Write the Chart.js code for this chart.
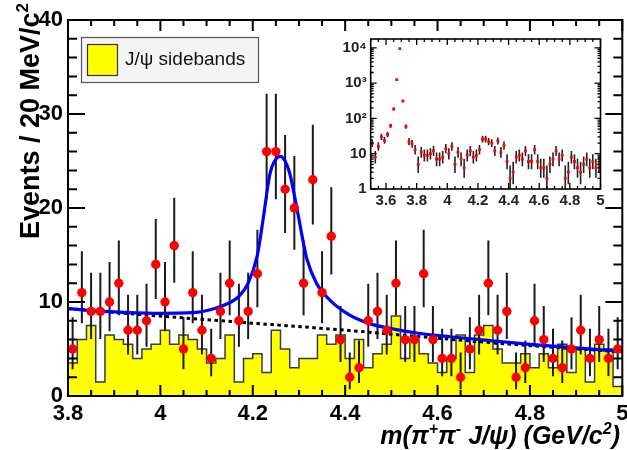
<!DOCTYPE html>
<html><head><meta charset="utf-8">
<script src="https://cdn.jsdelivr.net/npm/chart.js@4/dist/chart.umd.min.js"></script>
<style>
html,body{margin:0;padding:0;background:#fff;}
#wrap{position:relative;width:627px;height:450px;overflow:hidden;}
#main{position:absolute;left:0;top:0;}
#inset{position:absolute;left:336px;top:32px;}
</style></head><body>
<div id="wrap"><canvas id="main" width="627" height="450"></canvas><canvas id="inset" width="269" height="178"></canvas></div>
<script>
// ---------------- data ----------------
const massBins = [3.81,3.83,3.85,3.87,3.89,3.91,3.93,3.95,3.97,3.99,4.01,4.03,4.05,4.07,4.09,4.11,4.13,4.15,4.17,4.19,
  4.21,4.23,4.25,4.27,4.29,4.31,4.33,4.35,4.37,4.39,4.41,4.43,4.45,4.47,4.49,4.51,4.53,4.55,4.57,4.59,
  4.61,4.63,4.65,4.67,4.69,4.71,4.73,4.75,4.77,4.79,4.81,4.83,4.85,4.87,4.89,4.91,4.93,4.95,4.97,4.99];
const events = [5,11,9,9,10,12,7,7,8,14,10,16,5,11,7,4,9,12,8,9,
  13,26,26,22,20,12,23,11,17,6,2,3,8,9,7,12,6,6,13,6,
  4,4,2,5,7,12,7,9,2,3,8,6,4,3,5,7,4,6,4,5];
const sidebands = [3.5,6,7.5,1.5,6.5,6,5.5,4,5,5.5,7,5.5,6.5,6,5,3.5,4,6.5,1.5,4,
  4.5,2.5,7,5,3,4,4,6.5,5.5,6.5,4,6,3,4.5,5.5,8.5,4,6,4.5,3.5,
  2.5,4,6.5,2.5,6.5,7.5,5,3.5,3.5,4.5,3,4.5,3,5.5,2.5,5,1.5,5.5,5,1];
const fitX = [3.80,3.86,3.93,4.00,4.07,4.11,4.14,4.17,4.19,4.21,4.223,4.237,4.25,4.26,4.27,4.28,4.295,4.31,4.317,4.338,4.367,4.41,4.453,4.497,4.555,4.627,4.80,5.00];
const fitY = [9.3,9.05,8.88,8.8,8.86,9.2,9.7,10.6,12.0,15.0,19.0,23.6,25.2,25.5,25.0,23.7,20.1,16.2,14.6,12.0,10.2,8.6,7.7,7.2,6.7,6.3,5.5,4.75];
const bkgX = [3.8,4.0,4.2,4.4,4.6,4.8,5.0];
const bkgY = [9.3,8.5,7.75,7.0,6.15,5.35,4.7];
const xTicks = [3.8,4.0,4.2,4.4,4.6,4.8,5.0];
const xTickLabels = ['3.8','4','4.2','4.4','4.6','4.8','5'];
const yTicks = [0,10,20,30,40];
const yTickLabels = ['0','10','20','30','40'];
const legendLabel = 'J/\u03c8 sidebands';
// inset (wide range, log scale)
const insetLowBins = [3.51,3.53,3.55,3.57,3.59,3.61,3.63,3.65,3.67,3.69,3.71,3.73,3.75,3.77,3.79];
const insetLowCounts = [20,8,16,30,24,35,62,185,1250,9450,311,59,22,19,13];
const insetXTicks = [3.6,3.8,4.0,4.2,4.4,4.6,4.8,5.0];
const insetXLabels = ['3.6','3.8','4','4.2','4.4','4.6','4.8','5'];
const insetYTicks = [1,10,100,1000,10000];
const insetYLabels = ['1','10','10\u00b2','10\u00b3','10\u2074'];

// ---------------- helpers ----------------
const FONT = '"Liberation Sans", Arial, Helvetica, sans-serif';
function pLow(n){ if(n<=0) return 0; return n*Math.pow(1-1/(9*n)-1/(3*Math.sqrt(n)),3); }
function pHigh(n){ const m=n+1; return m*Math.pow(1-1/(9*m)+1/(3*Math.sqrt(m)),3); }

function drawErrorBars(chart, xsv, ysv, color, lw){
  const xs=chart.scales.x, ys=chart.scales.y, a=chart.chartArea, ctx=chart.ctx;
  ctx.save();
  ctx.beginPath(); ctx.rect(a.left,a.top,a.right-a.left,a.bottom-a.top); ctx.clip();
  ctx.strokeStyle=color; ctx.lineWidth=lw; ctx.beginPath();
  for(let i=0;i<xsv.length;i++){
    const n=ysv[i];
    const px=xs.getPixelForValue(xsv[i]);
    const lo=Math.max(pLow(n), ys.min);
    const hi=pHigh(n);
    ctx.moveTo(px, ys.getPixelForValue(lo)); ctx.lineTo(px, ys.getPixelForValue(hi));
  }
  ctx.stroke(); ctx.restore();
}

function drawFrameTicks(chart, xt, yt, o){
  const xs=chart.scales.x, ys=chart.scales.y, a=chart.chartArea, ctx=chart.ctx;
  ctx.save(); ctx.strokeStyle='#000'; ctx.lineWidth=o.lw; ctx.beginPath();
  for(const t of xt){ const px=xs.getPixelForValue(t.v); const L=t.major?o.xMaj:o.xMin;
    ctx.moveTo(px,a.bottom); ctx.lineTo(px,a.bottom-L); ctx.moveTo(px,a.top); ctx.lineTo(px,a.top+L); }
  for(const t of yt){ const py=ys.getPixelForValue(t.v); const L=t.major?o.yMaj:o.yMin;
    ctx.moveTo(a.left,py); ctx.lineTo(a.left+L,py); ctx.moveTo(a.right,py); ctx.lineTo(a.right-L,py); }
  ctx.stroke();
  ctx.lineWidth=o.frame; ctx.strokeRect(a.left,a.top,a.right-a.left,a.bottom-a.top);
  ctx.restore();
}

function drawPieces(ctx, pieces, fs, style){
  let w=0; const sfs=Math.round(fs*0.62);
  for(const p of pieces){ ctx.font=style+' '+(p.sup?sfs:fs)+'px '+FONT; w+=ctx.measureText(p.t).width; }
  let x=-w;
  for(const p of pieces){ ctx.font=style+' '+(p.sup?sfs:fs)+'px '+FONT;
    ctx.fillText(p.t, x, p.sup?-fs*0.42:0); x+=ctx.measureText(p.t).width; }
  return w;
}

// ---------------- main chart ----------------
const mainXMarks=[]; for(let k=0;k<=24;k++) mainXMarks.push({v:3.8+0.05*k, major:k%4===0});
const mainYMarks=[]; for(let v=0;v<=40;v+=2) mainYMarks.push({v:v, major:v%10===0});

const histData = sidebands.map((v,i)=>({x:massBins[i]-0.01, y:v}));
histData.push({x:5.0, y:sidebands[sidebands.length-1]});

const mainPlugin = {
  id:'mainDecor',
  beforeDatasetDraw(chart,args){
    if(args.index===1){ drawErrorBars(chart, massBins, events, '#1a1a1a', 2); }
  },
  afterDraw(chart){
    const ctx=chart.ctx;
    drawFrameTicks(chart, mainXMarks, mainYMarks, {lw:2, frame:2, xMaj:11, xMin:6, yMaj:17, yMin:9});
    // legend
    ctx.save();
    ctx.fillStyle='#f4f4f4'; ctx.strokeStyle='#555'; ctx.lineWidth=1.2;
    ctx.fillRect(81,37,178,46); ctx.strokeRect(81.5,37.5,177,45);
    ctx.fillStyle='#ffff00'; ctx.fillRect(87,44,31,32);
    ctx.strokeStyle='#333'; ctx.lineWidth=1.2; ctx.strokeRect(87.5,44.5,30,31);
    ctx.fillStyle='#111'; ctx.font='19px '+FONT; ctx.textBaseline='alphabetic'; ctx.textAlign='left';
    ctx.fillText(chart.data.datasets[0].label, 125, 65);
    ctx.restore();
    // y title
    ctx.save(); ctx.fillStyle='#000'; ctx.textAlign='left'; ctx.textBaseline='alphabetic';
    ctx.translate(39,3); ctx.rotate(-Math.PI/2);
    drawPieces(ctx,[{t:'Events / 20 MeV/c'},{t:'2',sup:true}],27,'bold');
    ctx.restore();
    // x title
    ctx.save(); ctx.fillStyle='#000'; ctx.textAlign='left'; ctx.textBaseline='alphabetic';
    ctx.translate(620,444);
    drawPieces(ctx,[{t:'m(\u03c0'},{t:'+',sup:true},{t:'\u03c0'},{t:'-',sup:true},{t:' J/\u03c8) (GeV/c'},{t:'2',sup:true},{t:')'}],25,'italic bold');
    ctx.restore();
  }
};

new Chart(document.getElementById('main'),{
  type:'scatter',
  data:{datasets:[
    {label:legendLabel, data:histData, showLine:true, stepped:true, fill:'origin',
     backgroundColor:'#ffff00', borderColor:'#3a3a3a', borderWidth:1.5, pointRadius:0, order:4},
    {label:'background', data:bkgX.map((x,i)=>({x:x,y:bkgY[i]})), showLine:true, borderColor:'#000',
     borderWidth:3, borderDash:[3.5,3.5], cubicInterpolationMode:'monotone', pointRadius:0, fill:false, order:3},
    {label:'fit', data:fitX.map((x,i)=>({x:x,y:fitY[i]})), showLine:true, borderColor:'#0000ff',
     borderWidth:3.2, cubicInterpolationMode:'monotone', pointRadius:0, fill:false, order:2},
    {label:'data', data:massBins.map((x,i)=>({x:x,y:events[i]})), showLine:false,
     pointRadius:4.7, pointBackgroundColor:'#ff0000', pointBorderWidth:0, pointStyle:'circle', order:1}
  ]},
  options:{
    responsive:false, animation:false, devicePixelRatio:1,
    layout:{padding:{top:20,right:4.5,left:0,bottom:0}},
    plugins:{legend:{display:false}, tooltip:{enabled:false}},
    scales:{
      x:{type:'linear', min:3.8, max:5.0,
        afterBuildTicks:s=>{s.ticks=xTicks.map(v=>({value:v}));},
        afterFit:s=>{s.height=54; s.paddingLeft=0; s.paddingRight=0;},
        grid:{display:false, drawTicks:false}, border:{display:false},
        ticks:{callback:(v,i)=>xTickLabels[i], autoSkip:false, maxRotation:0, padding:5,
          color:'#000', font:{family:FONT, size:22, weight:'bold'}}},
      y:{type:'linear', min:0, max:40,
        afterBuildTicks:s=>{s.ticks=yTicks.map(v=>({value:v}));},
        afterFit:s=>{s.width=68; s.paddingTop=0; s.paddingBottom=0;},
        grid:{display:false, drawTicks:false}, border:{display:false},
        ticks:{callback:(v,i)=>yTickLabels[i], autoSkip:false, padding:5,
          color:'#000', font:{family:FONT, size:22, weight:'bold'}}}
    }
  },
  plugins:[mainPlugin]
});

// ---------------- inset chart ----------------
const insetBins = insetLowBins.concat(massBins);
const insetCounts = insetLowCounts.concat(events);
const insetXMarks=[]; for(let k=0;k<=30;k++) insetXMarks.push({v:3.5+0.05*k, major:(k-2)%4===0});
const insetYMarks=[]; for(let d=0;d<=4;d++){ for(let m=1;m<=9;m++){ const v=m*Math.pow(10,d); if(v<=17800) insetYMarks.push({v:v, major:m===1}); } }

const insetPlugin = {
  id:'insetDecor',
  beforeDatasetDraw(chart,args){ if(args.index===0) drawErrorBars(chart, insetBins, insetCounts, '#222', 1.6); },
  afterDraw(chart){ drawFrameTicks(chart, insetXMarks, insetYMarks, {lw:1.3, frame:1.6, xMaj:6, xMin:3, yMaj:6, yMin:3}); }
};

new Chart(document.getElementById('inset'),{
  type:'scatter',
  data:{datasets:[
    {label:'all', data:insetBins.map((x,i)=>({x:x,y:insetCounts[i]})), showLine:false,
     pointRadius:2, pointStyle:'rect', pointBackgroundColor:'#ff0000', pointBorderWidth:0}
  ]},
  options:{
    responsive:false, animation:false, devicePixelRatio:1,
    layout:{padding:{top:7,right:4.5,left:0,bottom:0}},
    plugins:{legend:{display:false}, tooltip:{enabled:false}},
    scales:{
      x:{type:'linear', min:3.5, max:5.0,
        afterBuildTicks:s=>{s.ticks=insetXTicks.map(v=>({value:v}));},
        afterFit:s=>{s.height=21; s.paddingLeft=0; s.paddingRight=0;},
        grid:{display:false, drawTicks:false}, border:{display:false},
        ticks:{callback:(v,i)=>insetXLabels[i], autoSkip:false, maxRotation:0, padding:3,
          color:'#222', font:{family:FONT, size:15, weight:'bold'}}},
      y:{type:'logarithmic', min:1, max:17800,
        afterBuildTicks:s=>{s.ticks=insetYTicks.map(v=>({value:v}));},
        afterFit:s=>{s.width=34.7; s.paddingTop=0; s.paddingBottom=0;},
        grid:{display:false, drawTicks:false}, border:{display:false},
        ticks:{callback:(v,i)=>insetYLabels[i], autoSkip:false, padding:4,
          color:'#222', font:{family:FONT, size:15, weight:'bold'}}}
    }
  },
  plugins:[insetPlugin]
});
</script>
</body></html>
